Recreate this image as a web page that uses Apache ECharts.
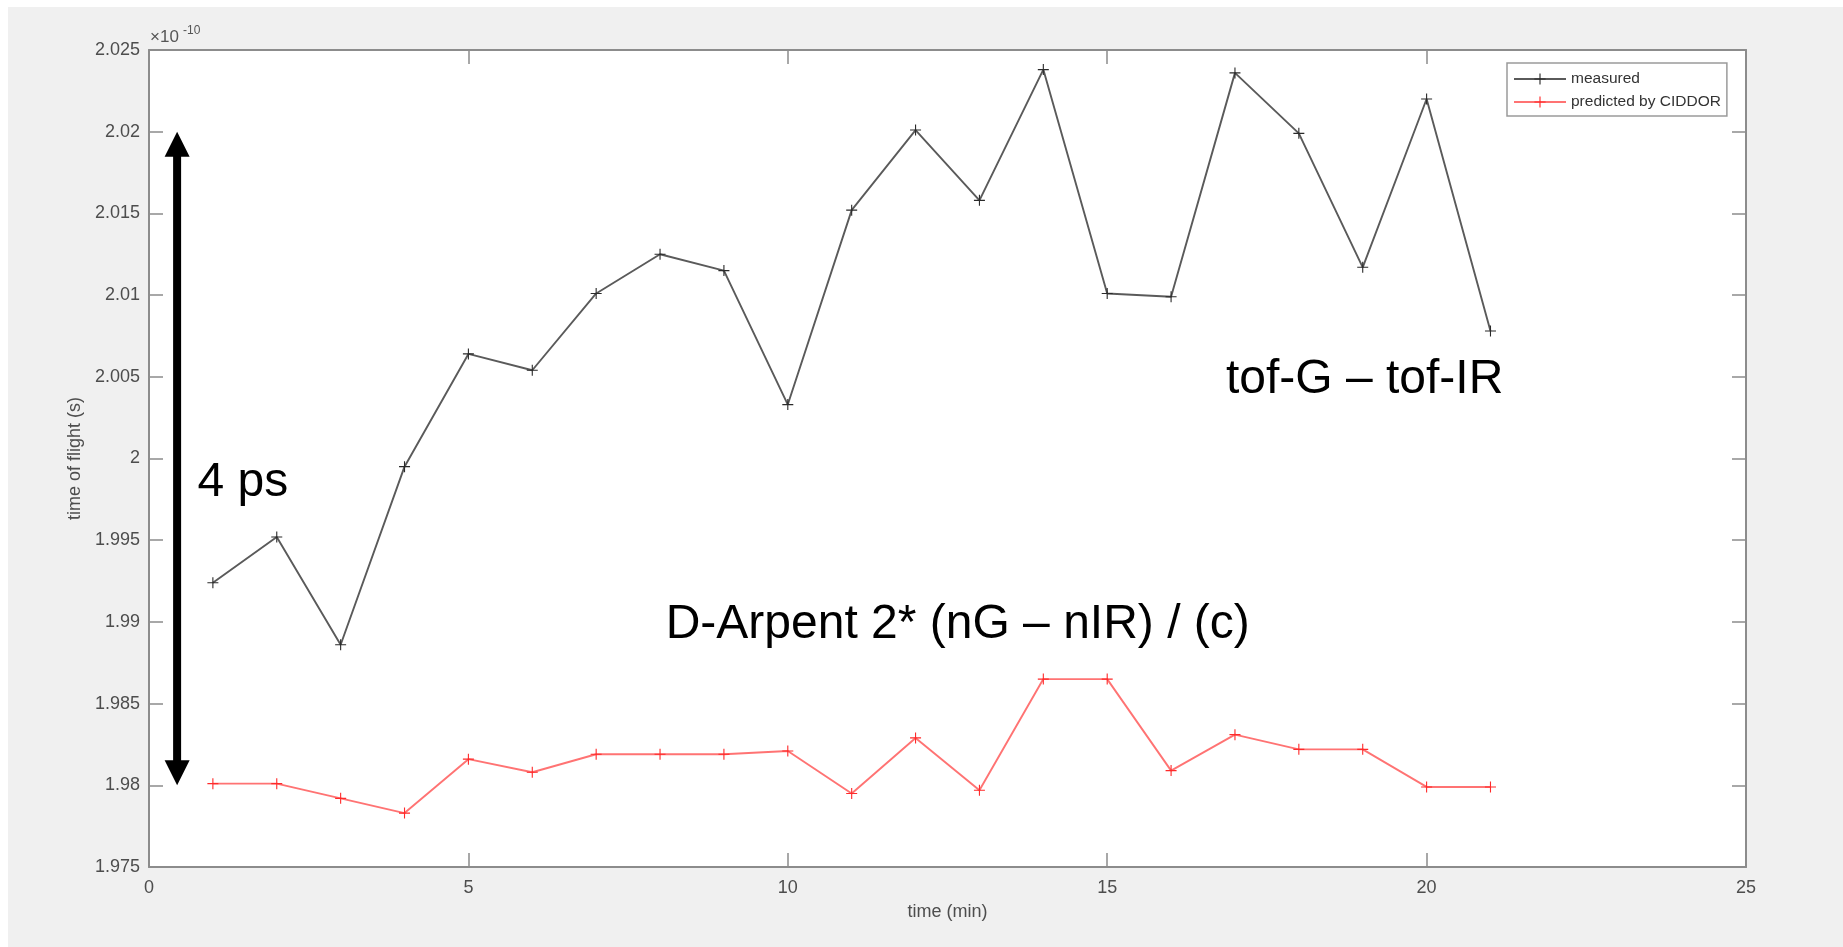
<!DOCTYPE html>
<html>
<head>
<meta charset="utf-8">
<script src="https://cdn.jsdelivr.net/npm/echarts@6/dist/echarts.min.js"></script>
<style>
html,body{margin:0;padding:0;background:#fff;width:1843px;height:947px;overflow:hidden}
#bg{position:absolute;left:8px;top:7px;right:0;bottom:0;background:#f0f0f0}
#chart{position:absolute;left:0;top:0;width:1843px;height:947px}
</style>
</head>
<body>
<div id="bg"></div>
<div id="chart"></div>
<script>
// ---- data (time of flight in units of 1e-10 s) ----
const times = [1,2,3,4,5,6,7,8,9,10,11,12,13,14,15,16,17,18,19,20,21];
const measured = [1.9924,1.9952,1.9886,1.9995,2.0064,2.0054,2.0101,2.0125,2.0115,2.0033,2.0152,2.0201,2.0158,2.0238,2.0101,2.0099,2.0236,2.0199,2.0117,2.0220,2.0078];
const predicted = [1.9801,1.9801,1.9792,1.9783,1.9816,1.9808,1.9819,1.9819,1.9819,1.9821,1.9795,1.9829,1.9797,1.9865,1.9865,1.9809,1.9831,1.9822,1.9822,1.9799,1.9799];
const seriesNames = ['measured','predicted by CIDDOR'];
const xAxisName = 'time (min)';
const yAxisName = 'time of flight (s)';
const yExponentBase = '\u00d710';
const yExponent = '-10';
const xMin = 0, xMax = 25, xStep = 5;
const yMin = 1.975, yMax = 2.025, yStep = 0.005;
// annotation (data coordinates)
const arrowX = 0.44, arrowLow = 1.98, arrowHigh = 2.02;
const noteTexts = ['4 ps','tof-G \u2013 tof-IR','D-Arpent 2* (nG \u2013 nIR) / (c)'];
const noteX = [1.47, 19.03, 12.66];
const noteY = [1.9985, 2.0048, 1.9898];

const FONT = '"Liberation Sans", Arial, Helvetica, sans-serif';
const PLUS = 'path://M9,0 H11 V9 H20 V11 H11 V20 H9 V11 H0 V9 H9 Z';
const axisGray = '#8c8c8c';
const labelGray = '#4d4d4d';

const chart = echarts.init(document.getElementById('chart'), null, {renderer:'canvas'});

function xAxisCfg(pos, showLabel) {
  return {
    type:'value', position:pos, min:xMin, max:xMax, interval:xStep,
    name: showLabel ? xAxisName : '', nameLocation:'middle', nameGap:36,
    nameTextStyle:{fontSize:18, color:labelGray, fontFamily:FONT},
    axisLine:{show:true, onZero:false, lineStyle:{color:axisGray, width:2}},
    axisTick:{show:true, inside:true, length:14, lineStyle:{color:axisGray, width:1.5}},
    axisLabel:{show:showLabel, fontSize:18, color:labelGray, fontFamily:FONT, margin:12},
    splitLine:{show:false}
  };
}
function yAxisCfg(pos, showLabel) {
  return {
    type:'value', position:pos, min:yMin, max:yMax, interval:yStep,
    name: showLabel ? yAxisName : '', nameLocation:'middle', nameGap:60,
    nameTextStyle:{fontSize:18, color:labelGray, fontFamily:FONT},
    axisLine:{show:true, onZero:false, lineStyle:{color:axisGray, width:2}},
    axisTick:{show:true, inside:true, length:14, lineStyle:{color:axisGray, width:1.5}},
    axisLabel:{show:showLabel, fontSize:18, color:labelGray, fontFamily:FONT, margin:9,
      formatter: v => String(parseFloat(v.toFixed(3)))},
    splitLine:{show:false}
  };
}

chart.setOption({
  animation:false,
  backgroundColor:'transparent',
  grid:{left:149, top:50, right:97, bottom:80, show:true, backgroundColor:'#fff', borderWidth:0},
  xAxis:[xAxisCfg('bottom', true), xAxisCfg('top', false)],
  yAxis:[yAxisCfg('left', true), yAxisCfg('right', false)],
  legend:{
    data:seriesNames, orient:'vertical', left:1507, top:63,
    itemWidth:52, itemHeight:14, itemGap:7, padding:[8,6,6,6],
    backgroundColor:'#fff', borderColor:'#9a9a9a', borderWidth:1.5, borderRadius:0,
    textStyle:{fontSize:15.5, color:'#333', fontFamily:FONT}
  },
  series:[
    {
      name:seriesNames[0], type:'line', xAxisIndex:0, yAxisIndex:0,
      data: times.map((t,i)=>[t, measured[i]]),
      symbol:PLUS, symbolSize:11, showAllSymbol:true,
      lineStyle:{color:'#5a5a5a', width:1.9},
      itemStyle:{color:'#2a2a2a'}
    },
    {
      name:seriesNames[1], type:'line', xAxisIndex:0, yAxisIndex:0,
      data: times.map((t,i)=>[t, predicted[i]]),
      symbol:PLUS, symbolSize:11, showAllSymbol:true,
      lineStyle:{color:'#ff7373', width:1.9},
      itemStyle:{color:'#ff2a2a'}
    }
  ]
});

function px(x, y) { return chart.convertToPixel({xAxisIndex:0, yAxisIndex:0}, [x, y]); }

const arrTop = px(arrowX, arrowHigh);
const arrBot = px(arrowX, arrowLow);
const head = 25, halfW = 12.5, shaft = 8;
const corner = px(xMin, yMax);
const graphics = [
  {type:'rect', shape:{x:arrTop[0]-shaft/2, y:arrTop[1]+head-1, width:shaft, height:arrBot[1]-arrTop[1]-2*head+2}, style:{fill:'#000'}, z:100},
  {type:'polygon', shape:{points:[[arrTop[0], arrTop[1]],[arrTop[0]-halfW, arrTop[1]+head],[arrTop[0]+halfW, arrTop[1]+head]]}, style:{fill:'#000'}, z:100},
  {type:'polygon', shape:{points:[[arrBot[0], arrBot[1]],[arrBot[0]-halfW, arrBot[1]-head],[arrBot[0]+halfW, arrBot[1]-head]]}, style:{fill:'#000'}, z:100},
  {type:'text', x:corner[0]+1, y:corner[1]-4, style:{text:yExponentBase, fontSize:17, fontFamily:FONT, fill:'#555', align:'left', verticalAlign:'bottom'}, z:100},
  {type:'text', x:corner[0]+34, y:corner[1]-13, style:{text:yExponent, fontSize:12, fontFamily:FONT, fill:'#555', align:'left', verticalAlign:'bottom'}, z:100}
];
noteTexts.forEach((t, i) => {
  const p = px(noteX[i], noteY[i]);
  graphics.push({type:'text', x:p[0], y:p[1], style:{text:t, fontSize:48, fontFamily:FONT, fill:'#000', align:'center', verticalAlign:'middle'}, z:100});
});
chart.setOption({graphic:graphics});
</script>
</body>
</html>
